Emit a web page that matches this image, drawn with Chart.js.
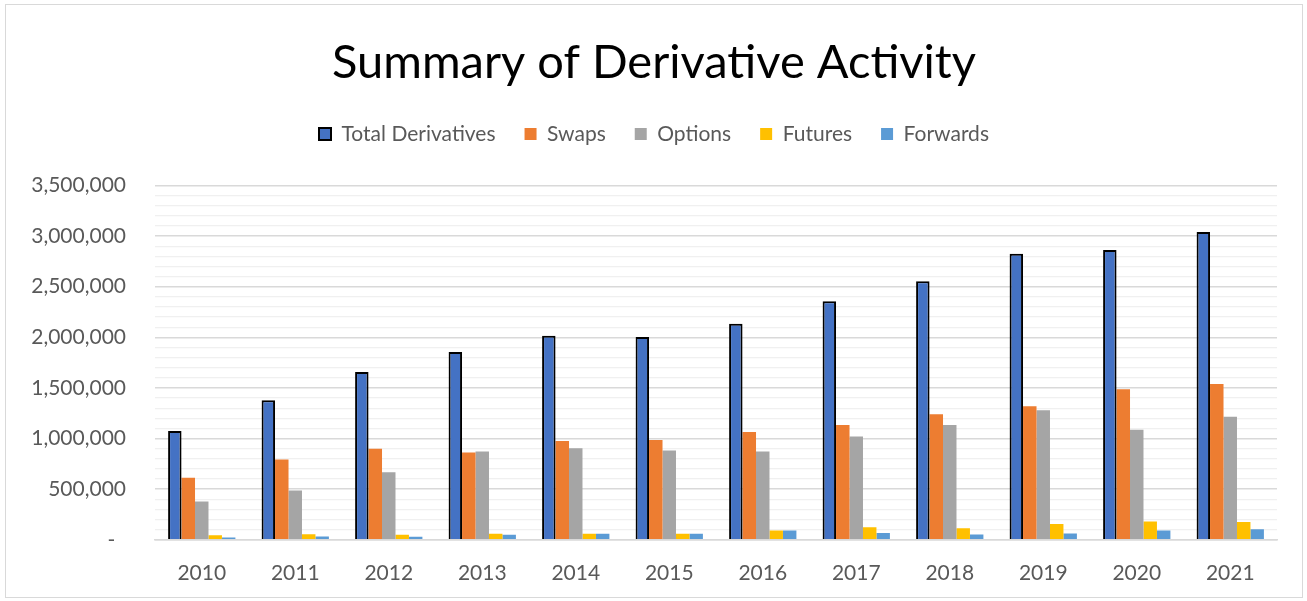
<!DOCTYPE html>
<html>
<head>
<meta charset="utf-8">
<script src="https://cdn.jsdelivr.net/npm/chart.js@4.4.0/dist/chart.umd.min.js"></script>
<style>
  body { margin: 0; background: #fff; }
  #wrap { position: absolute; left: 5px; top: 4px; width: 1296px; height: 592px; border: 1px solid #d9d9d9; }
  canvas { display: block; }
</style>
</head>
<body>
<div id="wrap"><canvas id="derivChart" width="1296" height="592"></canvas></div>
<script>
// dados
const years = ['2010', '2011', '2012', '2013', '2014', '2015', '2016', '2017', '2018', '2019', '2020', '2021'];
const totalDerivatives = [1075000, 1378000, 1657000, 1854000, 2015000, 2002000, 2133000, 2357000, 2554000, 2824000, 2863000, 3040000];
const swaps = [614000, 792000, 900000, 861000, 976000, 986000, 1065000, 1134000, 1239000, 1318000, 1486000, 1538000];
const options = [378000, 486000, 667000, 871000, 904000, 881000, 871000, 1019000, 1134000, 1279000, 1088000, 1216000];
const futures = [46000, 56000, 50000, 59000, 59000, 60000, 92000, 125000, 115000, 155000, 181000, 175000];
const forwards = [23000, 33000, 30000, 49000, 60000, 60000, 92000, 66000, 53000, 62000, 92000, 105000];

const fontFamily = 'Lato, "Liberation Sans", sans-serif';
const textGray = '#595959';

function formatTick(value) {
    if (value === 0) return '-  ';
    if (value % 500000 !== 0) return '';
    return value.toLocaleString('en-US');
}

// espaço extra abaixo da legenda
const legendGap = {
    id: 'legendGap',
    beforeInit(chart) {
        const fit = chart.legend.fit;
        chart.legend.fit = function () {
            fit.bind(chart.legend)();
            this.height += 31;
        };
    },
};

const ctx = document.querySelector('#derivChart').getContext('2d');

const derivChart = new Chart(ctx, {
    type: 'bar',
    data: {
        labels: years,
        datasets: [
            { label: 'Total Derivatives', data: totalDerivatives, backgroundColor: '#4472C4', borderColor: '#000000', borderWidth: 2 },
            { label: 'Swaps', data: swaps, backgroundColor: '#ED7D31', borderWidth: 0 },
            { label: 'Options', data: options, backgroundColor: '#A5A5A5', borderWidth: 0 },
            { label: 'Futures', data: futures, backgroundColor: '#FFC000', borderWidth: 0 },
            { label: 'Forwards', data: forwards, backgroundColor: '#5B9BD5', borderWidth: 0 },
        ],
    },
    plugins: [legendGap],
    options: {
        responsive: false,
        animation: false,
        layout: { padding: { left: 25, right: 25, top: 30, bottom: -10 } },
        datasets: { bar: { barPercentage: 1, categoryPercentage: 0.72 } },
        plugins: {
            title: {
                display: true,
                text: 'Summary of Derivative Activity',
                color: '#000000',
                font: { family: fontFamily, size: 47, weight: 'normal' },
                padding: { top: 0, bottom: 3 },
            },
            legend: {
                labels: {
                    color: textGray,
                    font: { family: fontFamily, size: 21 },
                    boxWidth: 12,
                    boxHeight: 12,
                    padding: 29,
                },
            },
            tooltip: { enabled: false },
        },
        scales: {
            x: {
                grid: { display: false, drawTicks: false },
                border: { color: '#d9d9d9', width: 1.5 },
                ticks: { color: textGray, font: { family: fontFamily, size: 21 }, padding: 21 },
            },
            y: {
                min: 0,
                max: 3500000,
                afterFit: scale => { scale.width = 124; },
                border: { display: false },
                grid: {
                    drawTicks: false,
                    color: c => (c.tick.value % 500000 === 0 ? '#d9d9d9' : '#f0f0f0'),
                    lineWidth: c => (c.tick.value % 500000 === 0 ? 1.5 : 1.2),
                },
                ticks: {
                    stepSize: 100000,
                    autoSkip: false,
                    color: textGray,
                    font: { family: fontFamily, size: 21 },
                    padding: 29,
                    callback: formatTick,
                },
            },
        },
    },
});
</script>
</body>
</html>
